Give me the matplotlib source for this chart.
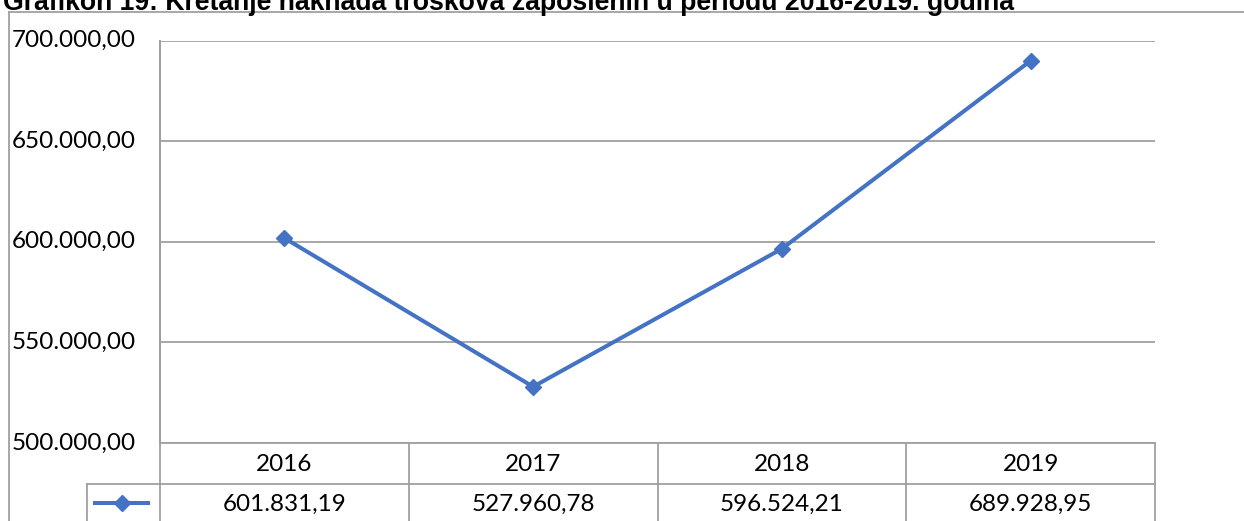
import matplotlib
matplotlib.use("Agg")
import matplotlib.pyplot as plt
from matplotlib.lines import Line2D
from matplotlib.transforms import blended_transform_factory

years = ["2016", "2017", "2018", "2019"]
values = [601831.19, 527960.78, 596524.21, 689928.95]
value_labels = ["601.831,19", "527.960,78", "596.524,21", "689.928,95"]
y_ticks = [500000, 550000, 600000, 650000, 700000]
y_tick_labels = ["500.000,00", "550.000,00", "600.000,00", "650.000,00", "700.000,00"]
title = "Grafikon 19: Kretanje naknada troškova zaposlenih u periodu 2016-2019. godina"

W, H = 1244, 521
BLUE = "#4472c4"
GRID = "#a0a0a0"
FONT = "Lato"
FS = 17.5


def fx(px):
    return px / W


def fy(py):
    return 1 - py / H


fig = plt.figure(figsize=(W / 100, H / 100), dpi=100)

# plot area in pixels
left, right, top, bottom = 160, 1155, 40.5, 443
ax = fig.add_axes([fx(left), fy(bottom), fx(right - left), (bottom - top) / H])

x = list(range(len(years)))
ax.plot(x, values, color=BLUE, lw=2.9, marker="D", ms=8, zorder=3)
ax.set_xlim(-0.5, len(years) - 0.5)
ax.set_ylim(y_ticks[0], y_ticks[-1])
ax.set_yticks(y_ticks)
ax.set_xticks([])
ax.set_yticklabels([])
ax.tick_params(axis="y", length=0)
ax.grid(axis="y", color=GRID, lw=1.3)
for s in ["top", "right", "bottom"]:
    ax.spines[s].set_visible(False)
ax.spines["left"].set_color(GRID)
ax.spines["left"].set_linewidth(1.3)

# y tick labels, left aligned at the chart's edge
tick_tr = blended_transform_factory(fig.transFigure, ax.transData)
for v, lab in zip(y_ticks, y_tick_labels):
    ax.text(fx(12), v, lab, transform=tick_tr, ha="left", va="center",
            fontsize=FS, family=FONT, clip_on=False)


def hline(x0, x1, y):
    fig.add_artist(Line2D([fx(x0), fx(x1)], [fy(y), fy(y)], color=GRID, lw=1.3))


def vline(xp, y0, y1):
    fig.add_artist(Line2D([fx(xp), fx(xp)], [fy(y0), fy(y1)], color=GRID, lw=1.3))


# data table below the plot
row1, row2, row_end = 443, 484, 530
col_w = (right - left) / len(years)
hline(left, right, row1)
hline(87, right, row2)
vline(left, top, row_end)
vline(87, row2, row_end)
for i in range(1, len(years) + 1):
    vline(left + i * col_w, row1, row_end)
for i, (yr, lab) in enumerate(zip(years, value_labels)):
    cx = left + (i + 0.5) * col_w
    fig.text(fx(cx), fy((row1 + row2) / 2 + 1), yr, ha="center", va="center", fontsize=FS, family=FONT)
    fig.text(fx(cx), fy(row2 + 20), lab, ha="center", va="center", fontsize=FS, family=FONT)

# legend key in the table
fig.add_artist(Line2D([fx(95), fx(148)], [fy(503), fy(503)], color=BLUE, lw=2.9))
fig.add_artist(Line2D([fx(122)], [fy(503)], color=BLUE, marker="D", ms=8))

# outer chart border
hline(9, W + 5, 11.5)
vline(9, 11.5, row_end)

# title, clipped at the top like the source
fig.text(fx(3), fy(10), title, ha="left", va="baseline", fontsize=19.2, fontweight="bold",
         family="Liberation Sans")

fig.savefig("out.png", dpi=100)
